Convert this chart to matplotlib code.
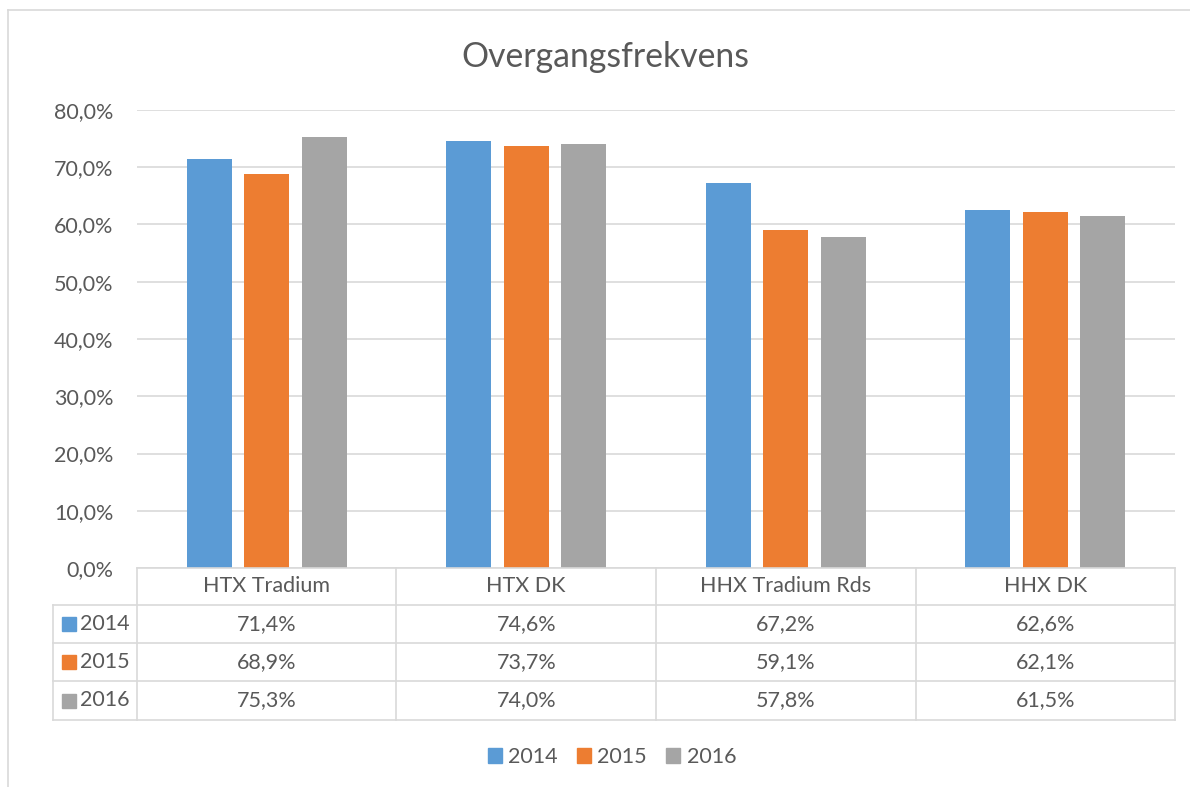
import matplotlib
matplotlib.use("Agg")
import matplotlib.pyplot as plt
from matplotlib.patches import Patch, Rectangle
from matplotlib.lines import Line2D
import matplotlib.transforms as mtrans
import numpy as np

plt.rcParams['font.family'] = ['Lato', 'DejaVu Sans']

title = "Overgangsfrekvens"
categories = ["HTX Tradium", "HTX DK", "HHX Tradium Rds", "HHX DK"]
series_names = ["2014", "2015", "2016"]
v2014 = [71.4, 74.6, 67.2, 62.6]
v2015 = [68.9, 73.7, 59.1, 62.1]
v2016 = [75.3, 74.0, 57.8, 61.5]
values = [v2014, v2015, v2016]
colors = ["#5b9bd5", "#ed7d31", "#a5a5a5"]
yticks = [0, 10, 20, 30, 40, 50, 60, 70, 80]

W, H = 1190, 787
fig = plt.figure(figsize=(W / 100, H / 100), dpi=100)
tc = "#595959"
gc = "#d9d9d9"
fs = 15.5

def fx(px):
    return px / W

def fy(py):
    return 1 - py / H

# chart border
fig.add_artist(Line2D([fx(8), fx(8)], [fy(10), fy(787)], color=gc, lw=1.2))
fig.add_artist(Line2D([fx(8), fx(1190)], [fy(10), fy(10)], color=gc, lw=1.2))

ax = fig.add_axes([fx(137), fy(568), fx(1175) - fx(137), fy(110) - fy(568)])
n = len(categories)
x = np.arange(n)
bw = 0.173
step = 0.222
for i, (vals, col) in enumerate(zip(values, colors)):
    ax.bar(x + (i - 1) * step, vals, width=bw, color=col, zorder=3)
ax.set_xlim(-0.5, n - 0.5)
ax.set_ylim(0, 80)
ax.set_yticks(yticks)
ax.set_yticklabels([f"{t:.1f}".replace(".", ",") + "%" for t in yticks], color=tc, fontsize=fs)
ax.tick_params(axis='y', length=0, pad=17)
ax.set_xticks([])
for s in ax.spines.values():
    s.set_visible(False)
ax.yaxis.grid(True, color=gc, lw=1.2, zorder=0)
ax.set_axisbelow(True)

fig.text(fx(605), fy(57), title, ha='center', va='center', fontsize=24.3, color=tc)

# data table
col_edges = [137, 396, 656, 916, 1175]
row_edges = [568, 605, 643, 681, 720]
left_px = 53
lw = 1.2
fig.add_artist(Line2D([fx(137), fx(1175)], [fy(568), fy(568)], color=gc, lw=lw))
for r in row_edges[1:]:
    fig.add_artist(Line2D([fx(left_px), fx(1175)], [fy(r), fy(r)], color=gc, lw=lw))
for c in col_edges:
    fig.add_artist(Line2D([fx(c), fx(c)], [fy(568), fy(720)], color=gc, lw=lw))
fig.add_artist(Line2D([fx(left_px), fx(left_px)], [fy(605), fy(720)], color=gc, lw=lw))

trans = mtrans.blended_transform_factory(ax.transData, fig.transFigure)
for j, cat in enumerate(categories):
    ycen = fy((row_edges[0] + row_edges[1]) / 2)
    fig.text(j, ycen, cat, transform=trans, ha='center', va='center', fontsize=fs, color=tc)
    for i, vals in enumerate(values):
        yc = fy((row_edges[i + 1] + row_edges[i + 2]) / 2)
        fig.text(j, yc, f"{vals[j]:.1f}".replace(".", ",") + "%", transform=trans,
                 ha='center', va='center', fontsize=fs, color=tc)

for i, (name, col) in enumerate(zip(series_names, colors)):
    yc = (row_edges[i + 1] + row_edges[i + 2]) / 2
    fig.add_artist(Rectangle((fx(62), fy(yc + 7)), fx(14), fy(yc - 7) - fy(yc + 7), color=col))
    fig.text(fx(80), fy(yc), name, ha='left', va='center', fontsize=fs, color=tc)

handles = [Patch(color=c, label=s) for s, c in zip(series_names, colors)]
fig.legend(handles=handles, loc='center', bbox_to_anchor=(fx(612), fy(757)), ncol=3, frameon=False,
           fontsize=fs, labelcolor=tc, handlelength=0.65, handleheight=0.65, handletextpad=0.3,
           columnspacing=0.9)

fig.savefig("out.png", dpi=100)
